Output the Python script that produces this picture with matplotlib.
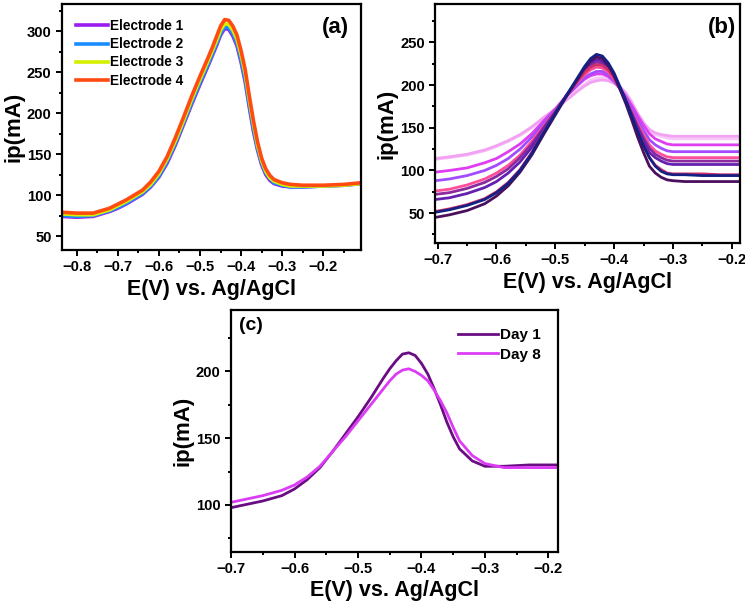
import matplotlib.pyplot as plt
from matplotlib.ticker import MultipleLocator

plt.rcParams['font.family'] = ['Liberation Sans', 'DejaVu Sans']
plt.rcParams['font.weight'] = 'bold'

# ---- panel (a): four electrodes ----
xa = [-0.836, -0.80, -0.76, -0.72, -0.70, -0.68, -0.66, -0.64, -0.62, -0.60,
      -0.58, -0.56, -0.54, -0.52, -0.50, -0.48, -0.47, -0.46, -0.45, -0.44,
      -0.43, -0.42, -0.41, -0.40, -0.39, -0.38, -0.37, -0.36, -0.35, -0.34,
      -0.33, -0.32, -0.30, -0.28, -0.25, -0.20, -0.15, -0.108]
e1 = [74, 73, 74, 80, 84, 89, 95, 101, 110, 122, 139, 161, 186, 211, 235, 258, 270, 282, 295, 303,
      302, 294, 282, 262, 238, 207, 178, 155, 137, 125, 118, 114, 111, 110, 110, 111, 112, 114]
e2 = [75, 74, 75, 81, 85, 90, 96, 102, 111, 123, 141, 163, 188, 213, 237, 260, 272, 284, 297, 305,
      304, 297, 285, 265, 241, 210, 181, 157, 139, 127, 120, 115, 112, 110, 110, 111, 112, 114]
e3 = [77, 76, 76, 82, 87, 92, 98, 104, 113, 126, 144, 166, 191, 217, 241, 264, 276, 288, 301, 309,
      308, 301, 290, 271, 248, 216, 187, 161, 142, 129, 121, 117, 113, 111, 111, 111, 112, 114]
e4 = [79, 78, 78, 84, 89, 94, 100, 106, 116, 129, 147, 170, 195, 221, 245, 268, 280, 293, 306, 314,
      313, 306, 295, 276, 253, 221, 191, 165, 145, 132, 124, 119, 115, 113, 112, 112, 113, 115]
names_a = ['Electrode 1', 'Electrode 2', 'Electrode 3', 'Electrode 4']
colors_a = ['#9A1CF0', '#1A8CFF', '#D4F000', '#FF4A10']

# ---- panel (b): repeated scans ----
xb = [-0.704, -0.68, -0.65, -0.62, -0.60, -0.58, -0.56, -0.54, -0.52, -0.50,
      -0.48, -0.46, -0.45, -0.44, -0.43, -0.42, -0.41, -0.40, -0.39, -0.38,
      -0.37, -0.36, -0.35, -0.34, -0.33, -0.32, -0.31, -0.30, -0.28, -0.25,
      -0.22, -0.186]
b_lilac = [113, 115, 118, 123, 128, 134, 141, 150, 161, 172, 184, 196, 201, 206, 208, 209, 207, 203, 197, 189,
           178, 166, 155, 146, 142, 140, 138, 137, 137, 137, 137, 137]
b_pink = [114, 116, 119, 124, 129, 135, 142, 151, 162, 172, 183, 194, 199, 203, 205, 206, 205, 202, 198, 191,
          180, 167, 156, 148, 144, 142, 141, 140, 140, 140, 140, 140]
b_magenta = [98, 100, 103, 109, 114, 122, 131, 143, 158, 172, 188, 201, 207, 211, 213, 213, 210, 204, 196, 187,
             176, 164, 153, 143, 137, 134, 131, 130, 130, 130, 130, 130]
b_violet = [88, 90, 94, 100, 106, 114, 125, 139, 155, 171, 188, 202, 209, 213, 216, 216, 212, 205, 196, 185,
            172, 159, 147, 136, 130, 126, 123, 122, 122, 122, 122, 122]
b_rose = [76, 78, 83, 90, 97, 106, 118, 134, 152, 170, 189, 205, 212, 218, 221, 220, 215, 207, 196, 183,
          169, 155, 142, 130, 123, 119, 116, 115, 115, 115, 115, 115]
b_purple = [72, 74, 79, 86, 93, 102, 115, 131, 150, 169, 189, 207, 216, 223, 227, 225, 219, 209, 196, 182,
            167, 152, 138, 126, 119, 115, 112, 111, 111, 111, 111, 111]
b_indigo = [66, 68, 73, 80, 87, 97, 110, 127, 148, 168, 189, 209, 218, 226, 230, 228, 221, 210, 196, 181,
            166, 149, 134, 121, 115, 111, 108, 107, 107, 107, 107, 107]
b_crimson = [52, 55, 60, 67, 75, 86, 101, 121, 145, 167, 188, 207, 215, 221, 224, 223, 218, 209, 196, 181,
             164, 146, 129, 115, 106, 101, 97, 96, 96, 96, 95, 95]
b_plum = [45, 48, 53, 61, 70, 82, 98, 118, 142, 165, 188, 209, 220, 228, 233, 231, 223, 211, 195, 178,
          159, 139, 121, 105, 97, 92, 89, 88, 87, 87, 87, 87]
b_navy = [51, 54, 59, 66, 74, 85, 100, 120, 144, 167, 189, 211, 222, 231, 236, 234, 226, 214, 198, 182,
          164, 146, 129, 115, 105, 99, 96, 95, 95, 94, 94, 94]
series_b = [b_lilac, b_pink, b_magenta, b_violet, b_rose, b_purple, b_indigo, b_crimson, b_plum, b_navy]
colors_b = ['#F8C6F8', '#F2A2F2', '#E03CF2', '#A24BFF', '#FF4F9A', '#8A2A9E', '#6420B0', '#D0306A',
            '#4B0F5E', '#142082']

# ---- panel (c): stability ----
xc = [-0.70, -0.68, -0.65, -0.62, -0.60, -0.58, -0.56, -0.54, -0.52, -0.50,
      -0.48, -0.46, -0.45, -0.44, -0.43, -0.42, -0.41, -0.40, -0.39, -0.38,
      -0.37, -0.36, -0.35, -0.34, -0.32, -0.30, -0.27, -0.23, -0.185]
day1 = [98, 100, 103, 107, 112, 119, 128, 140, 153, 166, 180, 195, 202, 208, 213, 214, 212, 206, 198, 187,
        175, 162, 151, 142, 133, 129, 129, 130, 130]
day8 = [102, 104, 107, 111, 115, 121, 129, 140, 151, 163, 175, 187, 193, 198, 201, 202, 200, 197, 193, 186,
        178, 169, 158, 148, 137, 131, 128, 128, 128]
names_c = ['Day 1', 'Day 8']
colors_c = ['#6A0D83', '#DD3CF5']

xlabel = 'E(V) vs. Ag/AgCl'
ylabel = 'ip(mA)'


def style_axes(ax, ymaj):
	for s in ax.spines.values():
		s.set_linewidth(1.6)
	ax.xaxis.set_major_locator(MultipleLocator(0.1))
	ax.xaxis.set_minor_locator(MultipleLocator(0.05))
	ax.yaxis.set_major_locator(MultipleLocator(ymaj))
	ax.yaxis.set_minor_locator(MultipleLocator(ymaj / 2))
	ax.tick_params(which='both', direction='out', top=False, right=False, width=1.4, labelsize=10.6)
	ax.tick_params(which='major', length=4)
	ax.tick_params(which='minor', length=2.5)
	ax.set_xlabel(xlabel, fontsize=15.5, fontweight='bold', labelpad=3)
	ax.set_ylabel(ylabel, fontsize=16, fontweight='bold', labelpad=2)


fig = plt.figure(figsize=(7.45, 6.02), dpi=100)

ax1 = fig.add_axes([0.0832, 0.5847, 0.4014, 0.4087])
for ys, c, n in zip([e1, e2, e3, e4], colors_a, names_a):
	ax1.plot(xa, ys, color=c, lw=2.6, label=n, solid_joinstyle='round')
ax1.set_xlim(-0.836, -0.108)
ax1.set_ylim(33, 333)
style_axes(ax1, 50)
ax1.legend(loc='upper left', bbox_to_anchor=(0.03, 0.96), frameon=False, fontsize=9.8,
           handlelength=2.3, handletextpad=0.2, labelspacing=0.3, borderaxespad=0.0)
ax1.text(0.916, 0.906, '(a)', transform=ax1.transAxes, fontsize=16, fontweight='bold',
         ha='center', va='center')

ax2 = fig.add_axes([0.5843, 0.5963, 0.4090, 0.3971])
for ys, c in zip(series_b, colors_b):
	ax2.plot(xb, ys, color=c, lw=2.0, solid_joinstyle='round')
ax2.set_xlim(-0.704, -0.186)
ax2.set_ylim(15, 295)
style_axes(ax2, 50)
ax2.text(0.94, 0.90, '(b)', transform=ax2.transAxes, fontsize=16, fontweight='bold',
         ha='center', va='center')

ax3 = fig.add_axes([0.3101, 0.0835, 0.4389, 0.4015])
for ys, c, n in zip([day1, day8], colors_c, names_c):
	ax3.plot(xc, ys, color=c, lw=2.0, label=n, solid_joinstyle='round')
ax3.set_xlim(-0.70, -0.185)
ax3.set_ylim(65, 246)
style_axes(ax3, 50)
ax3.legend(loc='upper right', bbox_to_anchor=(0.966, 0.95), frameon=False, fontsize=11,
           handlelength=2.6, handletextpad=0.15, labelspacing=0.35, borderaxespad=0.0)
ax3.text(0.06, 0.938, '(c)', transform=ax3.transAxes, fontsize=14, fontweight='bold',
         ha='center', va='center')

fig.savefig('out.png', dpi=100)
plt.close('all')
